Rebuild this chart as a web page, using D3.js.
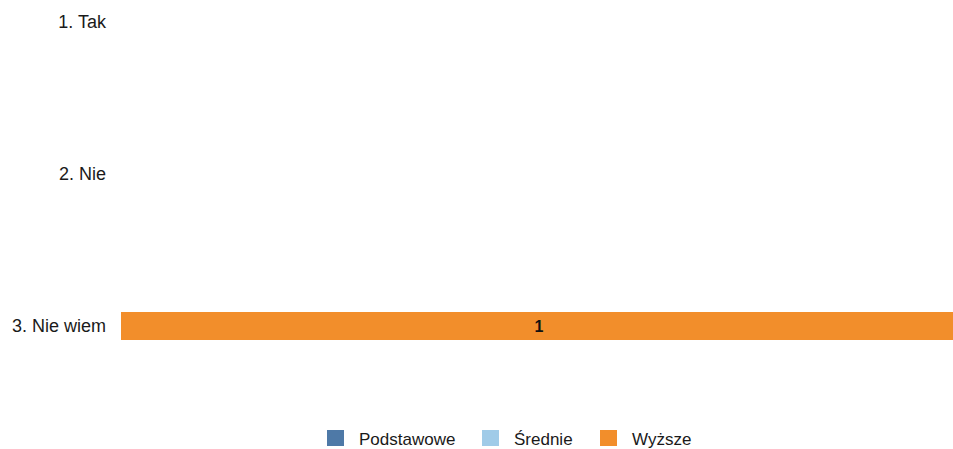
<!DOCTYPE html>
<html>
<head>
<meta charset="utf-8">
<script src="https://cdn.jsdelivr.net/npm/d3@7"></script>
<style>
  body { margin: 0; background: #fff; }
  svg { display: block; font-family: "Liberation Sans", Arial, sans-serif; }
</style>
</head>
<body>
<div id="chart"></div>
<script>
var width = 953, height = 449;

var categories = ["1. Tak", "2. Nie", "3. Nie wiem"];
var seriesNames = ["Podstawowe", "Średnie", "Wyższe"];
var colors = ["#4e79a7", "#a0cbe8", "#f28e2b"];
// counts per category for each series
var podstawowe = [0, 0, 0];
var srednie = [0, 0, 0];
var wyzsze = [0, 0, 1];

var series = [podstawowe, srednie, wyzsze];

var svg = d3.select("#chart")
  .append("svg")
  .attr("width", width)
  .attr("height", height);

// stacked rows
var rows = categories.map(function(c, i) {
  var start = 0;
  return series.map(function(s, k) {
    var seg = { cat: c, key: k, x0: start, x1: start + s[i], v: s[i] };
    start += s[i];
    return seg;
  });
});

var total = d3.max(rows, function(r) { return r[r.length - 1].x1; });

var x = d3.scaleLinear()
  .domain([0, total])
  .range([121, 953]);

var y = d3.scaleBand()
  .domain(categories)
  .range([-116, 464])
  .paddingInner(0.8158)
  .paddingOuter(0.8158);

// category labels
svg.append("g")
  .selectAll("text")
  .data(categories)
  .join("text")
  .attr("x", 106)
  .attr("y", function(d) { return y(d) + y.bandwidth() / 2; })
  .attr("dy", "0.35em")
  .attr("text-anchor", "end")
  .style("font-size", "18px")
  .attr("fill", "#1a1a1a")
  .text(function(d) { return d; });

// bars
var segs = [].concat.apply([], rows).filter(function(d) { return d.v > 0; });

svg.append("g")
  .selectAll("rect")
  .data(segs)
  .join("rect")
  .attr("x", function(d) { return x(d.x0); })
  .attr("y", function(d) { return y(d.cat); })
  .attr("width", function(d) { return x(d.x1) - x(d.x0); })
  .attr("height", y.bandwidth())
  .attr("fill", function(d) { return colors[d.key]; });

svg.append("g")
  .selectAll("text")
  .data(segs)
  .join("text")
  .attr("x", function(d) { return (x(d.x0) + x(d.x1)) / 2 + 2; })
  .attr("y", function(d) { return y(d.cat) + y.bandwidth() / 2; })
  .attr("dy", "0.36em")
  .attr("text-anchor", "middle")
  .style("font-size", "16px")
  .style("font-weight", "bold")
  .attr("fill", "#111")
  .text(function(d) { return d.v; });

// legend
var legendX = [327, 482, 600];
var legend = svg.append("g")
  .selectAll("g")
  .data(seriesNames)
  .join("g")
  .attr("transform", function(d, i) { return "translate(" + legendX[i] + ",430)"; });

legend.append("rect")
  .attr("width", 17)
  .attr("height", 16)
  .attr("fill", function(d, i) { return colors[i]; });

legend.append("text")
  .attr("x", 32)
  .attr("y", 15)
  .style("font-size", "17px")
  .attr("fill", "#1a1a1a")
  .text(function(d) { return d; });
</script>
</body>
</html>
